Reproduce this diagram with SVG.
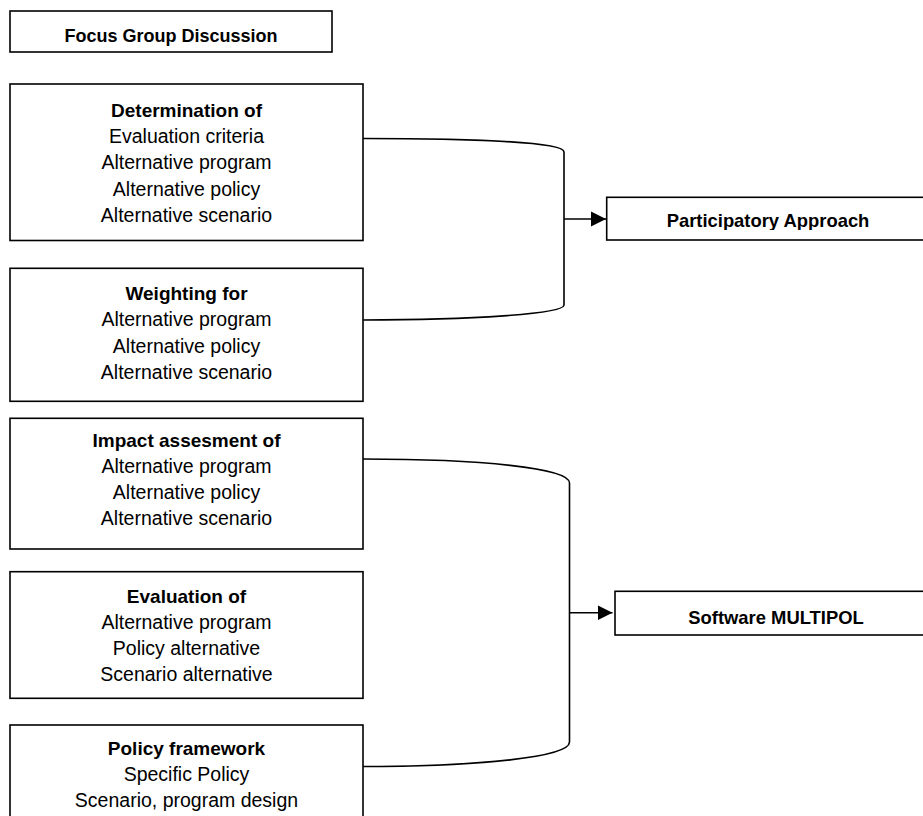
<svg xmlns="http://www.w3.org/2000/svg" width="923" height="816" viewBox="0 0 923 816">
<style>
.box{fill:#fff;stroke:#000;stroke-width:1.6}
.t{font-family:"Liberation Sans",Arial,sans-serif;font-size:19.5px;fill:#000;text-anchor:middle}
.b{font-weight:bold;font-size:19px}
.rb{font-family:"Liberation Sans",Arial,sans-serif;font-weight:bold;font-size:18.4px;fill:#000;text-anchor:middle}
.c{fill:none;stroke:#000;stroke-width:1.6}
</style>
<defs>
<marker id="ah" markerUnits="userSpaceOnUse" markerWidth="16" markerHeight="16" refX="15" refY="8" orient="auto">
<path d="M0,0.5 L15,8 L0,15.5 Z" fill="#000"/>
</marker>
<clipPath id="clipPA"><rect x="600" y="190" width="330" height="40"/></clipPath>
</defs>
<rect width="923" height="816" fill="#fff"/>

<g id="connectors">
<path class="c" d="M363,138.5 C470,138.5 564,142 564,152 L564,305 C564,314 470,320 363,320"/>
<path class="c" d="M564,219 L606,219" marker-end="url(#ah)"/>
<path class="c" d="M363,459 C480,459 569.5,468 569.5,483 L569.5,742 C569.5,757 480,766.5 363,766.5"/>
<path class="c" d="M569.5,612.7 L612.5,612.7" marker-end="url(#ah)"/>
</g>

<g id="focus">
<rect class="box" x="10" y="11" width="322" height="41"/>
<text class="t b" x="171" y="42" style="font-size:18px">Focus Group Discussion</text>
</g>

<g id="determination">
<rect class="box" x="10" y="84" width="353" height="156.5"/>
<text class="t b" x="186.5" y="116.5">Determination of</text>
<text class="t" x="186.5" y="143">Evaluation criteria</text>
<text class="t" x="186.5" y="169">Alternative program</text>
<text class="t" x="186.5" y="195.5">Alternative policy</text>
<text class="t" x="186.5" y="222">Alternative scenario</text>
</g>

<g id="weighting">
<rect class="box" x="10" y="268.3" width="353" height="133"/>
<text class="t b" x="186.5" y="299.5">Weighting for</text>
<text class="t" x="186.5" y="326">Alternative program</text>
<text class="t" x="186.5" y="352.5">Alternative policy</text>
<text class="t" x="186.5" y="379">Alternative scenario</text>
</g>

<g id="impact">
<rect class="box" x="10" y="418.3" width="353" height="130.7"/>
<text class="t b" x="186.5" y="447">Impact assesment of</text>
<text class="t" x="186.5" y="473.3">Alternative program</text>
<text class="t" x="186.5" y="499.3">Alternative policy</text>
<text class="t" x="186.5" y="525">Alternative scenario</text>
</g>

<g id="evaluation">
<rect class="box" x="10" y="571.7" width="353" height="126.6"/>
<text class="t b" x="186.5" y="602.5">Evaluation of</text>
<text class="t" x="186.5" y="628.5">Alternative program</text>
<text class="t" x="186.5" y="655">Policy alternative</text>
<text class="t" x="186.5" y="680.7">Scenario alternative</text>
</g>

<g id="policy">
<rect class="box" x="10" y="725" width="353" height="95"/>
<text class="t b" x="186.5" y="755">Policy framework</text>
<text class="t" x="186.5" y="780.5">Specific Policy</text>
<text class="t" x="186.5" y="806.7">Scenario, program design</text>
</g>

<g id="participatory">
<rect class="box" x="606.7" y="197.3" width="330" height="42.7"/>
<text class="rb" x="768" y="226.7" clip-path="url(#clipPA)">Participatory Approach</text>
</g>

<g id="multipol">
<rect class="box" x="615" y="591.3" width="330" height="43.7"/>
<text class="rb" x="776" y="624">Software MULTIPOL</text>
</g>
</svg>
